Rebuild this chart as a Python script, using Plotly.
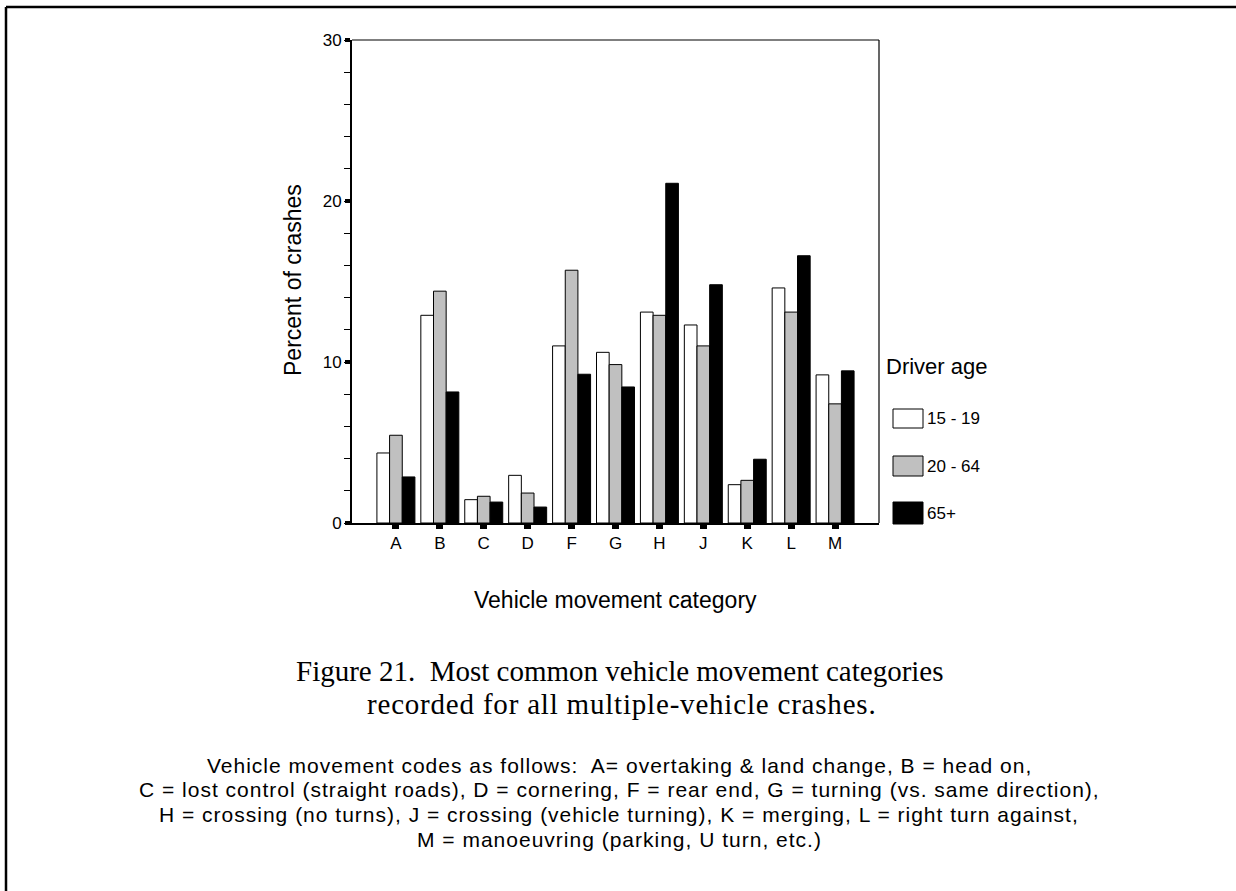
import plotly.graph_objects as go

# Vehicle movement categories and percent of crashes by driver age group
categories = ["A", "B", "C", "D", "F", "G", "H", "J", "K", "L", "M"]
age_15_19 = [4.35, 12.9, 1.45, 2.96, 11.0, 10.6, 13.1, 12.3, 2.38, 14.6, 9.2]
age_20_64 = [5.45, 14.4, 1.66, 1.86, 15.7, 9.84, 12.9, 11.0, 2.65, 13.1, 7.4]
age_65_plus = [2.86, 8.14, 1.3, 0.99, 9.24, 8.45, 21.1, 14.8, 3.96, 16.6, 9.45]
series_names = ["15 - 19", "20 - 64", "65+"]
series_colors = ["#ffffff", "#c0c0c0", "#000000"]
y_ticks = [0, 10, 20, 30]

W, H = 1236, 891
PL, PR, PT, PB = 352, 879, 40, 523  # plot area in pixels

SANS = "Arial, Liberation Sans, sans-serif"
SERIF = "Times New Roman, Liberation Serif, serif"


def px(x):
    return (x - PL) / (PR - PL)


def py(y):
    return (PB - y) / (PB - PT)


fig = go.Figure()
for name, vals, col in zip(series_names, [age_15_19, age_20_64, age_65_plus], series_colors):
    fig.add_trace(go.Bar(
        x=categories, y=vals, name=name,
        marker=dict(color=col, line=dict(color="black", width=1)),
        showlegend=False,
    ))

shapes = []
annotations = []

# outer page frame (left and top edges)
shapes.append(dict(type="line", xref="paper", yref="paper",
                   x0=px(6), x1=px(W + 5), y0=py(7), y1=py(7),
                   line=dict(color="black", width=2.5)))
shapes.append(dict(type="line", xref="paper", yref="paper",
                   x0=px(6), x1=px(6), y0=py(7), y1=py(H + 5),
                   line=dict(color="black", width=2.5)))

# thin top / right plot frame
shapes.append(dict(type="line", xref="paper", yref="paper",
                   x0=0, x1=1, y0=1, y1=1, line=dict(color="black", width=1.2)))
shapes.append(dict(type="line", xref="paper", yref="paper",
                   x0=1, x1=1, y0=0, y1=1, line=dict(color="black", width=1.2)))

# legend
annotations.append(dict(xref="paper", yref="paper", x=px(884), y=py(366),
                        text="Driver age", showarrow=False, xanchor="left",
                        yanchor="middle", font=dict(family=SANS, size=22, color="black")))
legend_rows = [(409, 428, 418), (456, 476, 466), (502, 524, 513)]
for (y0, y1, yl), name, col in zip(legend_rows, series_names, series_colors):
    shapes.append(dict(type="rect", xref="paper", yref="paper",
                       x0=px(893), x1=px(923), y0=py(y1), y1=py(y0),
                       fillcolor=col, line=dict(color="black", width=1)))
    annotations.append(dict(xref="paper", yref="paper", x=px(925), y=py(yl),
                            text=name, showarrow=False, xanchor="left",
                            yanchor="middle", font=dict(family=SANS, size=17, color="black")))

# axis titles
annotations.append(dict(xref="paper", yref="paper", x=px(293), y=py(280),
                        text="Percent of crashes", textangle=-90, showarrow=False,
                        xanchor="center", yanchor="middle",
                        font=dict(family=SANS, size=23, color="black")))
annotations.append(dict(xref="paper", yref="paper", x=px(615), y=py(600),
                        text="Vehicle movement category", showarrow=False,
                        xanchor="center", yanchor="middle",
                        font=dict(family=SANS, size=23, color="black")))

# figure caption
annotations.append(dict(xref="paper", yref="paper", x=px(620), y=py(671),
                        text="Figure 21.  Most common vehicle movement categories",
                        showarrow=False, xanchor="center", yanchor="middle",
                        font=dict(family=SERIF, size=29, color="black")))
annotations.append(dict(xref="paper", yref="paper", x=px(621), y=py(704),
                        text="<span style='letter-spacing:0.8px'>recorded for all multiple-vehicle crashes.</span>",
                        showarrow=False, xanchor="center", yanchor="middle",
                        font=dict(family=SERIF, size=29, color="black")))

# code key
code_lines = [
    "Vehicle movement codes as follows:  A= overtaking &amp; land change, B = head on,",
    "C = lost control (straight roads), D = cornering, F = rear end, G = turning (vs. same direction),",
    "H = crossing (no turns), J = crossing (vehicle turning), K = merging, L = right turn against,",
    "M = manoeuvring (parking, U turn, etc.)",
]
for i, line in enumerate(code_lines):
    annotations.append(dict(xref="paper", yref="paper", x=px(619), y=py(765 + 24.7 * i),
                            text="<span style='letter-spacing:1px'>" + line + "</span>",
                            showarrow=False, xanchor="center", yanchor="middle",
                            font=dict(family=SANS, size=21, color="black")))

fig.update_layout(
    width=W, height=H,
    margin=dict(l=PL, r=W - PR, t=PT, b=H - PB, pad=0),
    paper_bgcolor="white", plot_bgcolor="white",
    barmode="group", bargap=0.135, bargroupgap=0.0,
    font=dict(family=SANS, color="black"),
    shapes=shapes, annotations=annotations,
    xaxis=dict(
        type="category", range=[-1, 11], showgrid=False, zeroline=False,
        showline=True, linecolor="black", linewidth=2,
        ticks="outside", ticklen=4, tickwidth=7, tickcolor="black",
        tickfont=dict(family=SANS, size=17, color="black"),
    ),
    yaxis=dict(
        range=[0, 30], tickvals=y_ticks, showgrid=False, zeroline=False,
        showline=True, linecolor="black", linewidth=2,
        ticks="outside", ticklen=5, tickwidth=4, tickcolor="black",
        tickfont=dict(family=SANS, size=17, color="black"),
        minor=dict(dtick=2, ticks="outside", ticklen=6, tickwidth=1, tickcolor="black"),
    ),
)

fig.write_html("out.html")
